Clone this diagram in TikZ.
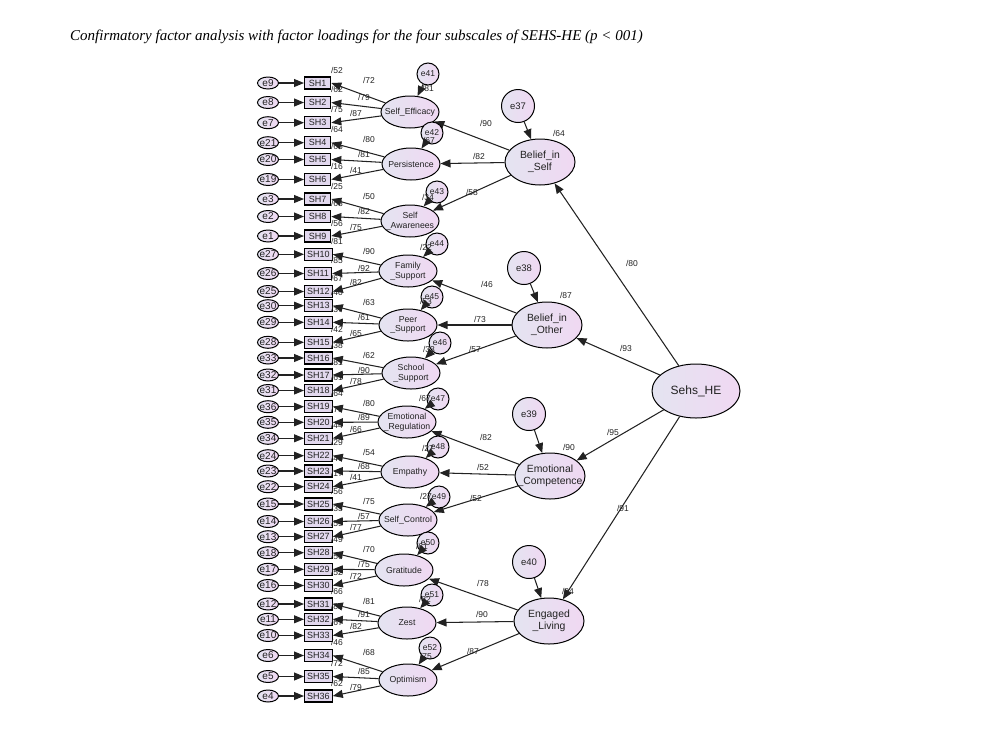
\documentclass[tikz,border=0pt]{standalone}
\usepackage{fontspec}
\setmainfont{Liberation Serif}
\newfontfamily\arial{Liberation Sans}
\usetikzlibrary{arrows.meta,shapes.geometric}
\definecolor{lavL}{HTML}{E4E4F1}
\definecolor{lavR}{HTML}{F0D8F2}
\definecolor{boxfill}{HTML}{E2D8EE}
\definecolor{ink}{HTML}{222222}
\begin{document}
\begin{tikzpicture}[x=1pt,y=-1pt,
 lat/.style={ellipse,draw=black,line width=1pt,left color=lavL,right color=lavR,inner sep=0pt},
 fo/.style={lat,minimum width=58pt,minimum height=32pt},
 so/.style={lat,minimum width=70pt,minimum height=46pt},
 apex/.style={lat,minimum width=88pt,minimum height=54pt},
 res/.style={lat,circle,minimum size=22pt},
 res2/.style={lat,circle,minimum size=33pt},
 err/.style={lat,minimum width=21pt,minimum height=12pt,font=\arial\fontsize{10}{10}\selectfont,text=ink},
 item/.style={rectangle,draw=black,line width=1.3pt,fill=boxfill,minimum width=26pt,minimum height=12pt,inner xsep=2.5pt,inner ysep=0pt,anchor=west,font=\arial\fontsize{9}{9}\selectfont,text=ink},
 fotxt/.style={align=center,inner sep=0pt,font=\arial\fontsize{8.7}{9.8}\selectfont,text=ink},
 sotxt/.style={align=center,inner sep=0pt,font=\arial\fontsize{10.4}{11.8}\selectfont,text=ink},
 restxt/.style={inner sep=0pt,font=\arial\fontsize{8.5}{9}\selectfont,text=ink},
 res2txt/.style={inner sep=0pt,font=\arial\fontsize{9.5}{10}\selectfont,text=ink},
 lab/.style={font=\arial\fontsize{8.5}{9}\selectfont,text=ink,inner sep=0pt},
 arr/.style={-{Triangle[length=10pt,width=8pt]},line width=1.05pt,draw=ink},
]
\useasboundingbox (0,0) rectangle (985,737);
\node[anchor=west,inner sep=0pt,font=\itshape\fontsize{15}{16}\selectfont] (title) at (70,37)
 {Confirmatory factor analysis with factor loadings for the four subscales of SEHS-HE (p < 001)};

% first-order factors
\foreach \n/\x/\y/\t in {1/410/112/{Self\_Efficacy},2/411/164/{Persistence},3/410/221/{Self\\\_Awarenees},
 4/408/271/{Family\\\_Support},5/408/325/{Peer\\\_Support},6/411/373/{School\\\_Support},
 7/407/422/{Emotional\\\_Regulation},8/410/472/{Empathy},9/408/520/{Self\_Control},
 10/404/570/{Gratitude},11/407/623/{Zest},12/408/680/{Optimism}}{
 \node[fo] (F\n) at (\x,\y) {};
 \node[fotxt] at (F\n) {\t};
}
% second-order and top factors
\node[so] (BIS) at (540,162) {}; \node[sotxt] at (BIS) {Belief\_in\\\_Self};
\node[so] (BIO) at (547,325) {}; \node[sotxt] at (BIO) {Belief\_in\\\_Other};
\node[so] (EC) at (550,476) {}; \node[sotxt] at (EC) {Emotional\\\_Competence};
\node[so] (EL) at (549,621) {}; \node[sotxt] at (EL) {Engaged\\\_Living};
\node[apex] (SE) at (696,391) {}; \node[inner sep=0pt,font=\arial\fontsize{12}{13}\selectfont,text=ink] at (SE) {Sehs\_HE};

% items
\foreach \y/\e/\l [count=\i] in {83/9/72,102.5/8/79,122.7/7/87,142.7/21/80,159.5/20/81,179.5/19/41,
 199/3/50,216.5/2/82,236/1/75,254.3/27/90,273.5/26/92,291.5/25/82,305.7/30/63,322.3/29/61,342.3/28/65,
 358/33/62,375/32/90,390.5/31/78,406.7/36/80,422.3/35/89,438.3/34/66,455.7/24/54,471/23/68,486.7/22/41,
 504/15/75,521.5/14/57,536.7/13/77,552.7/18/70,569.3/17/75,585.5/16/72,604/12/81,619.3/11/91,635.5/10/82,
 655.5/6/68,676.5/5/85,696/4/79}{
 \node[err] (le\i) at (268,\y) {\makebox[0pt]{e\e}};
 \node[item] (sh\i) at (304,\y) {SH\i};
 \draw[arr] (le\i) -- (sh\i);
 \pgfmathtruncatemacro\f{int((\i-1)/3)+1}
 \pgfmathtruncatemacro\k{mod(\i-1,3)}
 \draw[arr] (F\f) -- (sh\i.east);
 \ifcase\k \node[lab] at (369,\y-3) {/\l};
 \or \node[lab] at (364,\y-5) {/\l};
 \or \node[lab] at (356,\y-9) {/\l};
 \fi
}

% second-order paths
\draw[arr] (BIS) -- (F1); \draw[arr] (BIS) -- (F2); \draw[arr] (BIS) -- (F3);
\draw[arr] (BIO) -- (F4); \draw[arr] (BIO) -- (F5); \draw[arr] (BIO) -- (F6);
\draw[arr] (EC) -- (F7); \draw[arr] (EC) -- (F8); \draw[arr] (EC) -- (F9);
\draw[arr] (EL) -- (F10); \draw[arr] (EL) -- (F11); \draw[arr] (EL) -- (F12);
\draw[arr] (SE) -- (BIS); \draw[arr] (SE) -- (BIO); \draw[arr] (SE) -- (EC); \draw[arr] (SE) -- (EL);

\node[lab] (l1) at (486,123) {/90}; \node[lab] (l2) at (479,156) {/82}; \node[lab] (l3) at (472,192) {/58};
\node[lab] (l4) at (487,284) {/46}; \node[lab] (l5) at (480,319) {/73}; \node[lab] (l6) at (475,349) {/57};
\node[lab] (l7) at (486,437) {/82}; \node[lab] (l8) at (483,467) {/52}; \node[lab] (l9) at (476,498) {/52};
\node[lab] (l10) at (483,583) {/78}; \node[lab] (l11) at (482,614) {/90}; \node[lab] (l12) at (473,651) {/87};
\node[lab] (l13) at (632,263) {/80}; \node[lab] (l14) at (626,348) {/93};
\node[lab] (l15) at (613,432) {/95}; \node[lab] (l16) at (623,508) {/91};

% second-order residuals
\foreach \nm/\x/\y/\t/\r/\rx/\ry in {BIS/518/106/37/64/559/133,BIO/524/268/38/87/566/295,
 EC/529/414/39/90/569/447,EL/529/562/40/84/568/591}{
 \node[res2] (r\t) at (\x,\y) {};
 \node[res2txt] at (r\t) {e\t};
 \draw[arr] (r\t) -- (\nm);
 \node[lab] at (\rx,\ry) {/\r};
}

% first-order residuals
\foreach \n/\x/\y/\ex/\ey/\r in {1/410/112/428/74/81,2/411/164/432/133/67,3/410/221/437/192/34,
 4/408/271/437/244/22,5/408/325/432/297/53,6/411/373/440/343/33,7/407/422/438/399/67,
 8/410/472/438/447/27,9/408/520/439/497/27,10/404/570/428/543/61,11/407/623/432/595/82,
 12/408/680/430/648/75}{
 \pgfmathtruncatemacro\en{40+\n}
 \node[res] (rf\n) at (\ex,\ey) {};
 \node[restxt] at (rf\n) {e\en};
 \draw[arr] (rf\n) -- (F\n);
 \node[lab] at (\x+18,\y-24) {/\r};
}

% item R-squared labels
\foreach \y/\r in {83/52,102.5/62,122.7/75,142.7/64,159.5/65,179.5/16,199/25,216.5/68,236/56,
 254.3/81,273.5/85,291.5/67,305.7/40,322.3/37,342.3/42,358/38,375/81,390.5/61,406.7/64,422.3/79,
 438.3/44,455.7/29,471/46,486.7/17,504/56,521.5/33,536.7/59,552.7/49,569.3/56,585.5/52,604/66,
 619.3/82,635.5/67,655.5/46,676.5/72,696/62}{
 \node[lab] at (337,\y-13) {/\r};
}
\end{tikzpicture}
\end{document}
